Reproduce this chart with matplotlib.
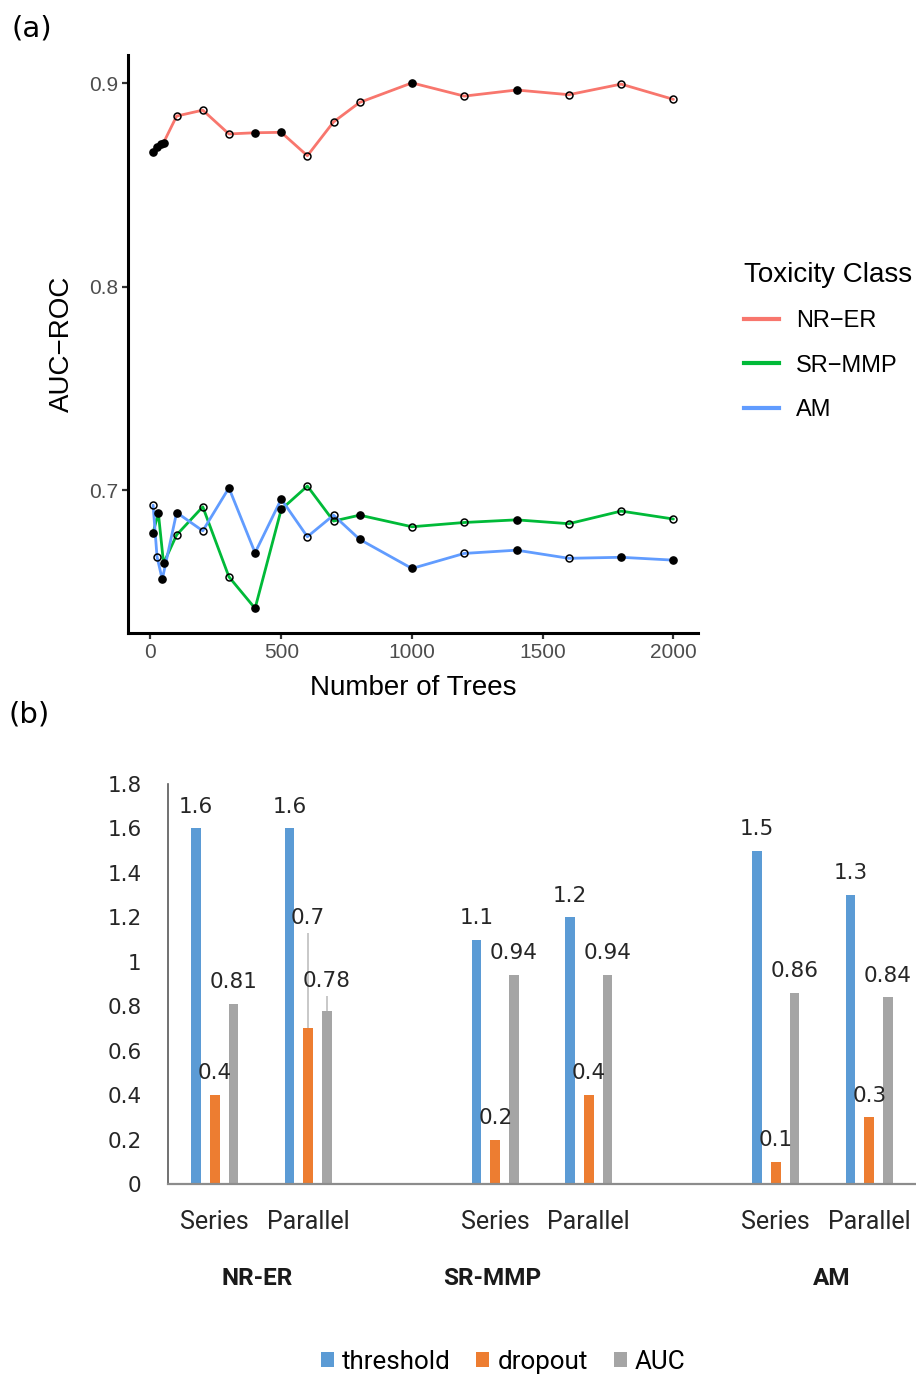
import matplotlib
matplotlib.use("Agg")
import matplotlib.pyplot as plt
import numpy as np
from matplotlib.lines import Line2D
from matplotlib.patches import Patch
from matplotlib import font_manager
import matplotlib.transforms as mtransforms

# ---------------- data: panel (a) ----------------
nr_er_trees = [10, 25, 40, 50, 100, 200, 300, 400, 500, 600, 700, 800, 1000, 1200, 1400, 1600, 1800, 2000]
nr_er_auc = [0.8663, 0.8687, 0.8699, 0.8707, 0.8838, 0.8867, 0.8750, 0.8756, 0.8758, 0.8643, 0.8809, 0.8905,
             0.9001, 0.8936, 0.8966, 0.8943, 0.8995, 0.8920]
nr_er_filled = [1, 1, 1, 1, 0, 0, 0, 1, 1, 0, 0, 0, 1, 0, 1, 0, 0, 0]

sr_mmp_trees = [10, 30, 50, 100, 200, 300, 400, 500, 600, 700, 800, 1000, 1200, 1400, 1600, 1800, 2000]
sr_mmp_auc = [0.6790, 0.6889, 0.6640, 0.6780, 0.6918, 0.6574, 0.6419, 0.6905, 0.7020, 0.6848, 0.6877,
              0.6820, 0.6841, 0.6854, 0.6835, 0.6897, 0.6858]
sr_mmp_filled = [1, 1, 1, 0, 0, 0, 1, 1, 0, 0, 1, 0, 0, 1, 0, 0, 0]

am_trees = [10, 25, 45, 100, 200, 300, 400, 500, 600, 700, 800, 1000, 1200, 1400, 1600, 1800, 2000]
am_auc = [0.6926, 0.6673, 0.6561, 0.6890, 0.6800, 0.7011, 0.6692, 0.6956, 0.6771, 0.6877, 0.6758,
          0.6615, 0.6689, 0.6705, 0.6665, 0.6670, 0.6656]
am_filled = [0, 0, 1, 1, 0, 1, 1, 1, 0, 0, 1, 1, 0, 1, 0, 1, 1]

class_names = ["NR\u2212ER", "SR\u2212MMP", "AM"]
x_ticks_a = [0, 500, 1000, 1500, 2000]
y_ticks_a = [0.7, 0.8, 0.9]

# ---------------- data: panel (b) ----------------
groups = ["NR-ER", "SR-MMP", "AM"]
configs = ["Series", "Parallel"]
threshold = [1.6, 1.6, 1.1, 1.2, 1.5, 1.3]
dropout = [0.4, 0.7, 0.2, 0.4, 0.1, 0.3]
auc = [0.81, 0.78, 0.94, 0.94, 0.86, 0.84]
dropout_err = [0, 0.43, 0, 0, 0, 0]
auc_err = [0, 0.066, 0, 0, 0, 0]
metric_names = ["threshold", "dropout", "AUC"]
y_ticks_b = [0, 0.2, 0.4, 0.6, 0.8, 1, 1.2, 1.4, 1.6, 1.8]

# ---------------- fonts ----------------
avail = {f.name for f in font_manager.fontManager.ttflist}
arial = "Liberation Sans" if "Liberation Sans" in avail else "DejaVu Sans"
narrow = "Liberation Sans Narrow" if "Liberation Sans Narrow" in avail else ("Roboto" if "Roboto" in avail else arial)
label_font = "DejaVu Sans"

W, H = 916, 1375
fig = plt.figure(figsize=(W / 100, H / 100), dpi=100)

# ================= panel (a) =================
ax1 = fig.add_axes([128 / W, 1 - 633 / H, 570 / W, 578 / H])
line_colors = ["#F8766D", "#00BA38", "#619CFF"]
series = [(nr_er_trees, nr_er_auc, nr_er_filled),
          (sr_mmp_trees, sr_mmp_auc, sr_mmp_filled),
          (am_trees, am_auc, am_filled)]
for (xs, ys, fl), col in zip(series, line_colors):
    ax1.plot(xs, ys, color=col, lw=2.0, zorder=2, solid_capstyle="round")
for (xs, ys, fl), col in zip(series, line_colors):
    xs = np.array(xs); ys = np.array(ys); fl = np.array(fl, dtype=bool)
    ax1.plot(xs[fl], ys[fl], ls="none", marker="o", ms=5.2, mfc="black", mec="black", mew=1.0, zorder=3)
    ax1.plot(xs[~fl], ys[~fl], ls="none", marker="o", ms=5.0, mfc="none", mec="black", mew=1.1, zorder=3)

ax1.set_xlim(-86, 2094)
ax1.set_ylim(0.6298, 0.9138)
ax1.set_xticks(x_ticks_a)
ax1.set_xticklabels([str(v) for v in x_ticks_a])
ax1.set_yticks(y_ticks_a)
ax1.set_yticklabels([f"{v:.1f}" for v in y_ticks_a])
for s in ["top", "right"]:
    ax1.spines[s].set_visible(False)
for s in ["left", "bottom"]:
    ax1.spines[s].set_linewidth(2.2)
    ax1.spines[s].set_color("black")
ax1.tick_params(axis="both", length=4, width=1.6, color="#333333", labelcolor="#4D4D4D",
                labelsize=15, pad=3)
for lab in ax1.get_xticklabels() + ax1.get_yticklabels():
    lab.set_fontfamily(arial)
ax1.set_xlabel("Number of Trees", fontsize=20, fontfamily=arial, color="black")
ax1.set_ylabel("AUC\u2212ROC", fontsize=20, fontfamily=arial, color="black")
ax1.xaxis.set_label_coords(0.5, -0.095)
ax1.xaxis.label.set_va("center")
ax1.yaxis.set_label_coords(-0.116, 0.5)
ax1.yaxis.label.set_va("center")
ax1.yaxis.label.set_ha("center")

handles = [Line2D([0], [0], color=c, lw=3.0) for c in line_colors]
leg = fig.legend(handles, class_names, loc="upper left", bbox_to_anchor=(739 / W, 1 - 257 / H),
                 frameon=False, title="Toxicity Class",
                 title_fontproperties={"size": 20, "family": arial},
                 prop={"family": arial, "size": 17}, handlelength=1.5, handletextpad=0.72,
                 labelspacing=0.95, alignment="left", borderaxespad=0, borderpad=0.2)
leg._legend_title_box.sep = 21

fig.text(32 / W, 1 - 28 / H, "(a)", fontsize=21, fontfamily=label_font, ha="center", va="center")
fig.text(29 / W, 1 - 715 / H, "(b)", fontsize=21, fontfamily=label_font, ha="center", va="center")

# ================= panel (b) =================
ax2 = fig.add_axes([168 / W, 1 - 1184 / H, 748 / W, 400 / H])
bar_colors = ["#5B9BD5", "#ED7D31", "#A5A5A5"]
pos = np.array([g * 3 + c for g in range(len(groups)) for c in range(len(configs))], dtype=float)
bw = 0.105
offsets = [-0.2, 0.0, 0.2]
values = [threshold, dropout, auc]
errs = [[0] * 6, dropout_err, auc_err]
for vals, err, off, col, name in zip(values, errs, offsets, bar_colors, metric_names):
    ax2.bar(pos + off, vals, width=bw, color=col, label=name, zorder=2)
    err = np.array(err)
    m = err > 0
    if m.any():
        ax2.errorbar(pos[m] + off, np.array(vals)[m], yerr=[np.zeros(m.sum()), err[m]], fmt="none",
                     ecolor="#BFBFBF", elinewidth=1.2, capsize=0, zorder=1)
    for x, v, e in zip(pos + off, vals, err):
        top = v + e
        offpt = 3.5 if e > 0 else 8.5
        ax2.annotate(f"{v:g}", (x, top), xytext=(0, offpt), textcoords="offset points",
                     ha="center", va="bottom", fontsize=15.5, fontfamily=label_font, color="#262626")

ax2.set_xlim(-0.5, 7.5)
ax2.set_ylim(0, 1.8)
ax2.set_yticks(y_ticks_b)
ax2.set_yticklabels([f"{v:g}" for v in y_ticks_b])
ax2.set_xticks(pos)
ax2.set_xticklabels(configs * len(groups))
ax2.tick_params(axis="both", length=0)
ax2.tick_params(axis="y", pad=19, labelsize=15.5, labelcolor="#262626")
ax2.tick_params(axis="x", pad=19, labelsize=18, labelcolor="#262626")
for lab in ax2.get_yticklabels():
    lab.set_fontfamily(label_font)
for lab in ax2.get_xticklabels():
    lab.set_fontfamily(narrow)
for s in ["top", "right"]:
    ax2.spines[s].set_visible(False)
ax2.spines["left"].set_color("#595959")
ax2.spines["left"].set_linewidth(1.2)
ax2.spines["bottom"].set_color("#8C8C8C")
ax2.spines["bottom"].set_linewidth(1.6)

trans = mtransforms.blended_transform_factory(ax2.transData, ax2.transAxes)
group_label_x = [0.45, 2.97, 6.6]
for gx, g in zip(group_label_x, groups):
    ax2.text(gx, -0.237, g, transform=trans, ha="center", va="center", fontsize=17.5,
             fontweight="bold", fontfamily=narrow, color="#1a1a1a")

leg_handles = [Patch(facecolor=c, edgecolor="none") for c in bar_colors]
fig.legend(leg_handles, metric_names, loc="center", bbox_to_anchor=(503 / W, 1 - 1362 / H), ncol=3,
           frameon=False, prop={"family": narrow, "size": 18.7}, handlelength=0.5, handleheight=0.5,
           handletextpad=0.3, columnspacing=1.0, borderaxespad=0)

fig.savefig("out.png", dpi=100)
